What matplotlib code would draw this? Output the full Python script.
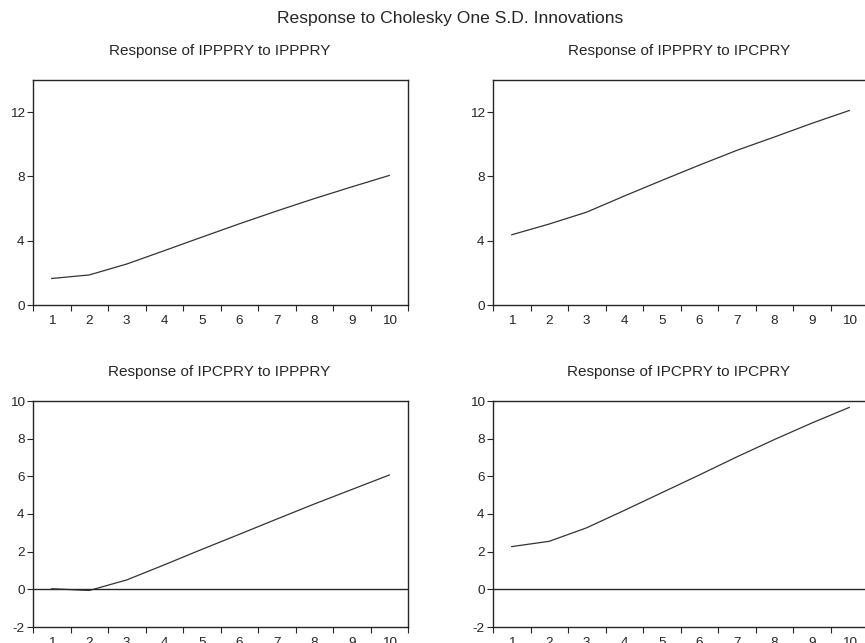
import matplotlib
matplotlib.use("Agg")
import matplotlib.pyplot as plt
import numpy as np

plt.rcParams['font.family'] = ['Liberation Sans', 'DejaVu Sans']

periods = np.arange(1, 11)

ippp_to_ippp = [1.65, 1.87, 2.55, 3.38, 4.22, 5.05, 5.85, 6.62, 7.35, 8.06]
ippp_to_ipcp = [4.37, 5.04, 5.78, 6.78, 7.75, 8.70, 9.62, 10.45, 11.30, 12.10]
ipcp_to_ippp = [0.03, -0.06, 0.50, 1.30, 2.12, 2.92, 3.73, 4.53, 5.30, 6.07]
ipcp_to_ipcp = [2.27, 2.55, 3.27, 4.19, 5.13, 6.07, 7.03, 7.95, 8.83, 9.66]

panels = [
    ("Response of IPPPRY to IPPPRY", ippp_to_ippp, (0, 14), [0, 4, 8, 12]),
    ("Response of IPPPRY to IPCPRY", ippp_to_ipcp, (0, 14), [0, 4, 8, 12]),
    ("Response of IPCPRY to IPPPRY", ipcp_to_ippp, (-2, 10), [-2, 0, 2, 4, 6, 8, 10]),
    ("Response of IPCPRY to IPCPRY", ipcp_to_ipcp, (-2, 10), [-2, 0, 2, 4, 6, 8, 10]),
]

W, H = 865, 643
fig = plt.figure(figsize=(W / 100, H / 100), dpi=100)

# axes boxes in pixels: (left, top, width, height)
boxes = [(33, 80, 375, 225), (493, 80, 375, 225),
         (33, 401, 375, 226), (493, 401, 375, 226)]

ink = '#262626'

fig.text(450 / W, 1 - 19 / H, "Response to Cholesky One S.D. Innovations",
         ha='center', va='center', fontsize=12.6, color=ink)

for (title, vals, ylim, yticks), (l, t, w, h) in zip(panels, boxes):
    ax = fig.add_axes([l / W, 1 - (t + h) / H, w / W, h / H])
    ax.plot(periods, vals, color='#333333', lw=0.9)
    if ylim[0] < 0:
        ax.axhline(0, color=ink, lw=1.0)
    ax.set_xlim(0.5, 10.5)
    ax.set_ylim(*ylim)
    ax.set_yticks(yticks)
    ax.set_yticklabels([str(v) for v in yticks])
    ax.set_xticks(periods)
    ax.set_xticklabels([str(p) for p in periods])
    ax.set_xticks(np.arange(0.5, 11, 1.0), minor=True)
    ax.tick_params(axis='x', which='major', length=0, pad=7, labelsize=9.7, colors=ink)
    ax.tick_params(axis='x', which='minor', length=4, direction='out', width=0.8, color=ink)
    ax.tick_params(axis='y', which='major', length=4, direction='out', width=0.8,
                   labelsize=9.7, colors=ink, pad=2)
    for s in ax.spines.values():
        s.set_linewidth(1.0)
        s.set_color(ink)
    cx = l + w / 2 - 1 if l < 400 else l + 186
    fig.text(cx / W, 1 - (t - 29) / H, title,
             ha='center', va='center', fontsize=11, color=ink)

fig.savefig("out.png", dpi=100)
